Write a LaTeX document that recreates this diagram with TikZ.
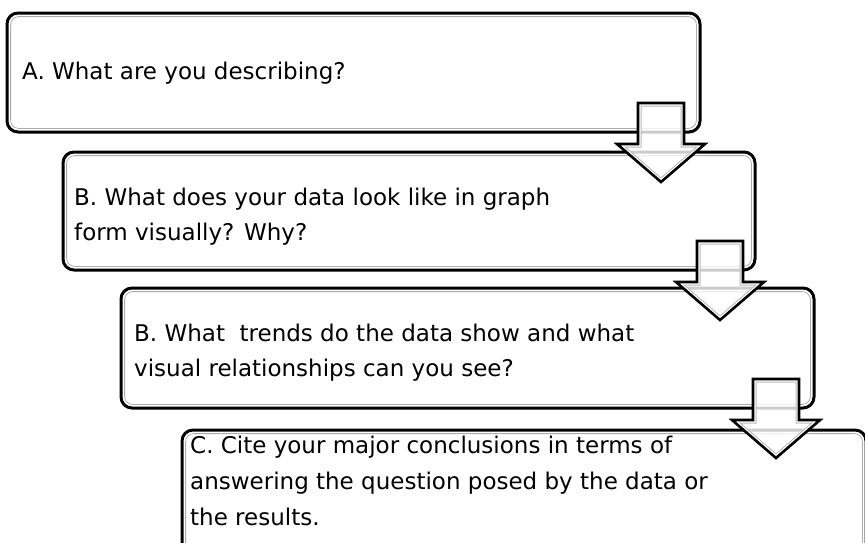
\documentclass[tikz,border=0pt]{standalone}
\usepackage{fontspec}
\newfontfamily\labelfont{DejaVu Sans}

% Block arrow pointing down: #1 = centre x, #2 = top y
\newcommand\downarrowshape[2]{({#1-23},#2) -- ({#1+23},#2) -- ({#1+23},{#2+41}) -- ({#1+44},{#2+41}) -- (#1,{#2+79}) -- ({#1-44},{#2+41}) -- ({#1-23},{#2+41}) -- cycle}

\newcommand\blockarrow[2]{%
  \fill[white, fill opacity=0.8] \downarrowshape{#1}{#2};
  \begin{scope}
    \clip \downarrowshape{#1}{#2};
    \draw[gray!55, line width=7pt, line join=miter] \downarrowshape{#1}{#2};
    \draw[white, line width=5pt, line join=miter] \downarrowshape{#1}{#2};
  \end{scope}
  \draw[black, line width=2.6pt, line join=miter] \downarrowshape{#1}{#2};
}

\tikzset{
  frame/.style={draw=black, fill=white, line width=3pt, rounded corners=11pt,
    anchor=north west, inner sep=0pt, outer sep=0pt},
  inner frame/.style={draw=gray!65, line width=0.8pt, rounded corners=8pt},
  label/.style={anchor=base west, inner sep=0pt,
    font={\labelfont\fontsize{23}{35}\selectfont}}
}

% Rounded step box with a thin grey inner rule
\newcommand\stepframe[5]{%
  \node[frame, minimum width=#4, minimum height=#5] (#1) at (#2,#3) {};
  \draw[inner frame] ([shift={(3.6,3.6)}]#1.north west) rectangle ([shift={(-3.6,-3.6)}]#1.south east);
}

\begin{document}
\begin{tikzpicture}[x=1pt, y=-1pt]
  \useasboundingbox (0,0) rectangle (865,542);

  \stepframe{boxA}{7}{13}{693}{119}
  \stepframe{boxB}{63}{152}{692}{118}
  \stepframe{boxC}{121}{288}{693}{120}
  \stepframe{boxD}{182}{430}{684}{130}

  \node[label] (tA1) at (22,79) {A. What are you describing?};

  \node[label] (tB1) at (74,205) {B. What does your data look like in graph};
  \node[label] (tB2) at (74,240) {form visually? Why?};

  \node[label] (tC1) at (134,341) {B. What\ \ trends do the data show and what};
  \node[label] (tC2) at (134,376) {visual relationships can you see?};

  \node[label] (tD1) at (190,453) {C. Cite your major conclusions in terms of};
  \node[label] (tD2) at (190,489) {answering the question posed by the data or};
  \node[label] (tD3) at (190,525) {the results.};

  \blockarrow{661}{103}
  \blockarrow{720}{241}
  \blockarrow{776}{379}
\end{tikzpicture}
\end{document}
